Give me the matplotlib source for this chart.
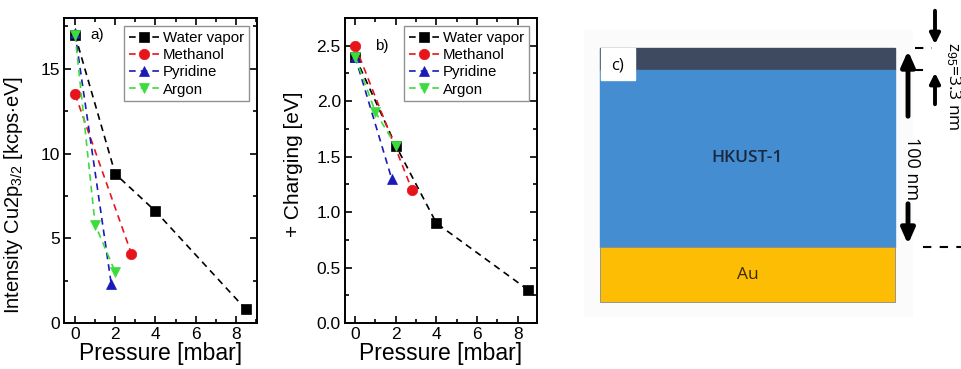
import matplotlib
matplotlib.use("Agg")
import matplotlib.pyplot as plt
from matplotlib.patches import Rectangle
from matplotlib.ticker import MultipleLocator, FormatStrFormatter

plt.rcParams['font.family'] = ['Liberation Sans', 'DejaVu Sans']
plt.rcParams['mathtext.fontset'] = 'custom'
plt.rcParams['mathtext.rm'] = 'Liberation Sans'
plt.rcParams['mathtext.it'] = 'Liberation Sans:italic'

# ---- data ----
series_names = ["Water vapor", "Methanol", "Pyridine", "Argon"]
water_p = [0, 2, 4, 8.5]
water_int = [17.0, 8.8, 6.6, 0.8]
water_chg = [2.4, 1.6, 0.9, 0.3]
methanol_p = [0, 2.8]
methanol_int = [13.5, 4.1]
methanol_chg = [2.5, 1.2]
pyridine_p = [0, 1.8]
pyridine_int = [17.1, 2.3]
pyridine_chg = [2.4, 1.3]
argon_p = [0, 1, 2]
argon_int = [17.0, 5.8, 3.0]
argon_chg = [2.4, 1.9, 1.6]

colors = ["black", "#e8141c", "#1a1ab8", "#3ddc3d"]
markers = ["s", "o", "^", "v"]

W, H = 962, 369
fig = plt.figure(figsize=(W / 100, H / 100), dpi=100)

def px_axes(x0, x1, y0, y1):
    return fig.add_axes([x0 / W, 1 - y1 / H, (x1 - x0) / W, (y1 - y0) / H])

ax_a = px_axes(64, 257, 18, 323)
ax_b = px_axes(345, 537, 18, 323)

def style(ax):
    ax.tick_params(direction="in", which="both", top=True, right=True, labelsize=12.5,
                   width=1.2, pad=3)
    ax.tick_params(which="major", length=5)
    ax.tick_params(which="minor", length=3)
    ax.xaxis.set_major_locator(MultipleLocator(2))
    ax.xaxis.set_minor_locator(MultipleLocator(1))
    for s in ax.spines.values():
        s.set_linewidth(1.4)

def plot_panel(ax, ys):
    xs = [water_p, methanol_p, pyridine_p, argon_p]
    for x, y, c, m, n in zip(xs, ys, colors, markers, series_names):
        ax.plot(x, y, linestyle=(0, (4, 3)), color=c, marker=m, markersize=7.5,
                markeredgewidth=0.5, markeredgecolor=c, linewidth=1.2, label=n)
    leg = ax.legend(loc="upper right", fontsize=10.8, frameon=True, fancybox=False,
                    borderpad=0.3, labelspacing=0.22, handlelength=2.0, handletextpad=0.3,
                    borderaxespad=0.55)
    leg.get_frame().set_edgecolor("#777777")
    leg.get_frame().set_linewidth(1.0)

plot_panel(ax_a, [water_int, methanol_int, pyridine_int, argon_int])
style(ax_a)
ax_a.set_xlim(-0.55, 9.05)
ax_a.set_ylim(0, 18)
ax_a.yaxis.set_major_locator(MultipleLocator(5))
ax_a.yaxis.set_minor_locator(MultipleLocator(2.5))
ax_a.set_xlabel("Pressure [mbar]", fontsize=16.5, labelpad=0)
ax_a.set_ylabel("Intensity Cu2p$_{3/2}$ [kcps$\\cdot$eV]", fontsize=14.5)
ax_a.yaxis.set_label_coords(-0.2, 0.42)
ax_a.text(0.75, 17.0, "a)", fontsize=11, va="center")

plot_panel(ax_b, [water_chg, methanol_chg, pyridine_chg, argon_chg])
style(ax_b)
ax_b.set_xlim(-0.5, 8.95)
ax_b.set_ylim(0, 2.75)
ax_b.yaxis.set_major_locator(MultipleLocator(0.5))
ax_b.yaxis.set_minor_locator(MultipleLocator(0.25))
ax_b.yaxis.set_major_formatter(FormatStrFormatter("%.1f"))
ax_b.set_xlabel("Pressure [mbar]", fontsize=16.5, labelpad=0)
ax_b.set_ylabel("+ Charging [eV]", fontsize=15)
ax_b.yaxis.set_label_coords(-0.22, 0.52)
ax_b.text(1.0, 2.5, "b)", fontsize=11, va="center")

# ---- panel c: schematic ----
ax_c = fig.add_axes([580 / W, 0, (W - 580) / W, 1])
ax_c.set_xlim(580, W)
ax_c.set_ylim(H, 0)
ax_c.axis("off")

box_l, box_r = 600, 895
top, dark_bot, blue_bot, au_bot = 48, 70, 247, 302
ax_c.add_patch(Rectangle((584, 30), 328, 286, color="#fbfbfb", zorder=0))
ax_c.add_patch(Rectangle((box_l, top), box_r - box_l, dark_bot - top, color="#3e4a60", zorder=1))
ax_c.add_patch(Rectangle((box_l, dark_bot), box_r - box_l, blue_bot - dark_bot, color="#438dd0", zorder=1))
ax_c.add_patch(Rectangle((box_l, blue_bot), box_r - box_l, au_bot - blue_bot, facecolor="#fdbd04",
                         edgecolor="#8a8a8a", linewidth=0.6, zorder=1))
ax_c.add_patch(Rectangle((601, 48), 34, 32, color="white", zorder=2))
ax_c.text(618, 65, "c)", fontsize=12, ha="center", va="center", family="Open Sans", zorder=3)
ax_c.text((box_l + box_r) / 2, 158, "HKUST-1", fontsize=12.5, ha="center", va="center",
          family="Open Sans", weight="semibold", color="#1c2740", zorder=3)
ax_c.text((box_l + box_r) / 2, 275, "Au", fontsize=12.5, ha="center", va="center",
          family="Open Sans", color="#3a2a00", zorder=3)

# big arrow (100 nm)
akw = dict(arrowstyle="-|>,head_width=0.4,head_length=0.9", color="black", lw=3.5)
ax_c.annotate("", xy=(908, top), xytext=(908, 119), arrowprops=akw)
ax_c.annotate("", xy=(908, blue_bot), xytext=(908, 201), arrowprops=akw)
ax_c.text(912, 169, "100 nm", rotation=-90, fontsize=13, ha="center", va="center", family="Open Sans")
# dashed lines
ax_c.plot([923, 962], [blue_bot, blue_bot], color="black", lw=1.5, linestyle=(0, (4, 4)))
ax_c.plot([915, 932], [top, top], color="black", lw=1.5, linestyle=(0, (4, 4)))
ax_c.plot([915, 922], [dark_bot, dark_bot], color="black", lw=1.5)
# small arrows
skw = dict(arrowstyle="-|>,head_width=0.3,head_length=0.6", color="black", lw=2.8)
ax_c.annotate("", xy=(935, 47), xytext=(935, 8), arrowprops=skw)
ax_c.annotate("", xy=(935, 70), xytext=(935, 107), arrowprops=skw)
ax_c.text(953, 42, "z$_{95}$=3.3 nm", rotation=-90, fontsize=12.5, ha="center", va="top",
          family="Open Sans")

fig.savefig("out.png", dpi=100)
